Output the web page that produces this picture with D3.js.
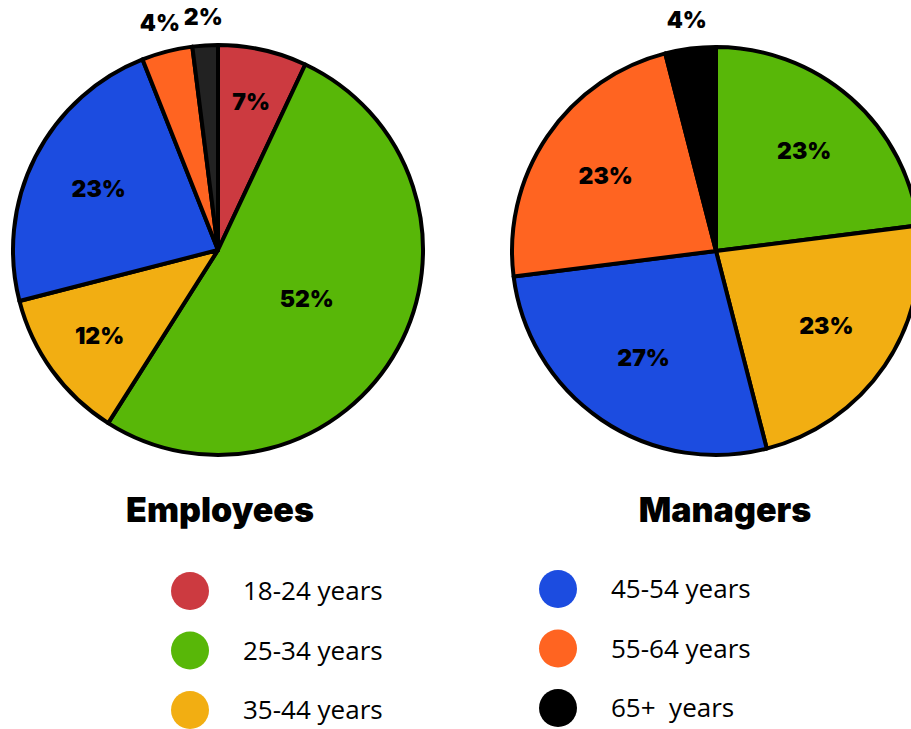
<!DOCTYPE html>
<html>
<head>
<meta charset="utf-8">
<script src="https://cdn.jsdelivr.net/npm/d3@7"></script>
<style>
  body { margin: 0; background: #fff; }
  .pct { font-family: "Inter", sans-serif; font-weight: 900; font-size: 23px; }
  .title { font-family: "Inter", sans-serif; font-weight: 900; font-size: 34px; }
  .legend-label { font-family: "Open Sans", sans-serif; font-size: 26px; white-space: pre; }
</style>
</head>
<body>
<svg width="911" height="729"></svg>
<script>
const ageGroups = ["18-24 years", "25-34 years", "35-44 years", "45-54 years", "55-64 years", "65+  years"];
const employeesShare = [7, 52, 12, 23, 4, 2];
const managersShare = [0, 23, 23, 27, 23, 4];
const groupColors = ["#cc3a40", "#58b708", "#f2ae12", "#1c4ce0", "#ff6421", "#000000"];

const svg = d3.select("svg");

const color = d3.scaleOrdinal().domain(ageGroups).range(groupColors);

function drawPie(values, cx, cy, radius, title, titleX, oldestColor) {
    const rows = ageGroups.map((g, i) => ({ group: g, value: values[i] }))
        .filter(d => d.value > 0);

    const pie = d3.pie().sort(null).value(d => d.value);
    const arcs = pie(rows);
    const arc = d3.arc().innerRadius(0).outerRadius(radius);

    const g = svg.append("g").attr("transform", `translate(${cx},${cy})`);

    g.selectAll("path.slice")
        .data(arcs)
        .enter().append("path")
        .attr("class", "slice")
        .attr("d", arc)
        .attr("fill", d => d.data.group === ageGroups[5] ? oldestColor : color(d.data.group))
        .attr("stroke", "#000")
        .attr("stroke-width", 4)
        .attr("stroke-linejoin", "round");

    g.selectAll("text.pct")
        .data(arcs)
        .enter().append("text")
        .attr("class", "pct")
        .attr("text-anchor", "middle")
        .attr("dy", "0.35em")
        .attr("transform", d => {
            const mid = (d.startAngle + d.endAngle) / 2;
            const share = d.data.value / 100;
            const r = share < 0.05 ? radius + 29 : radius * (0.78 - 0.55 * share);
            return `translate(${Math.sin(mid) * r},${-Math.cos(mid) * r})`;
        })
        .text(d => d.data.value + "%");

    svg.append("text")
        .attr("class", "title")
        .attr("x", titleX)
        .attr("y", 522)
        .attr("text-anchor", "middle")
        .text(title);
}

drawPie(employeesShare, 218, 250, 205, "Employees", 220, "#222222");
drawPie(managersShare, 716, 251, 204, "Managers", 725, "#000000");

const legend = svg.append("g");
const cols = [{ x: 190, y: 591 }, { x: 558, y: 589 }];

legend.selectAll("g.item")
    .data(ageGroups)
    .enter().append("g")
    .attr("class", "item")
    .attr("transform", (d, i) => {
        const c = cols[Math.floor(i / 3)];
        return `translate(${c.x},${c.y + (i % 3) * 59.5})`;
    })
    .each(function (d) {
        const item = d3.select(this);
        item.append("circle").attr("r", 19).attr("fill", color(d));
        item.append("text")
            .attr("class", "legend-label")
            .attr("x", 53)
            .attr("dy", "0.35em")
            .text(d);
    });
</script>
</body>
</html>
